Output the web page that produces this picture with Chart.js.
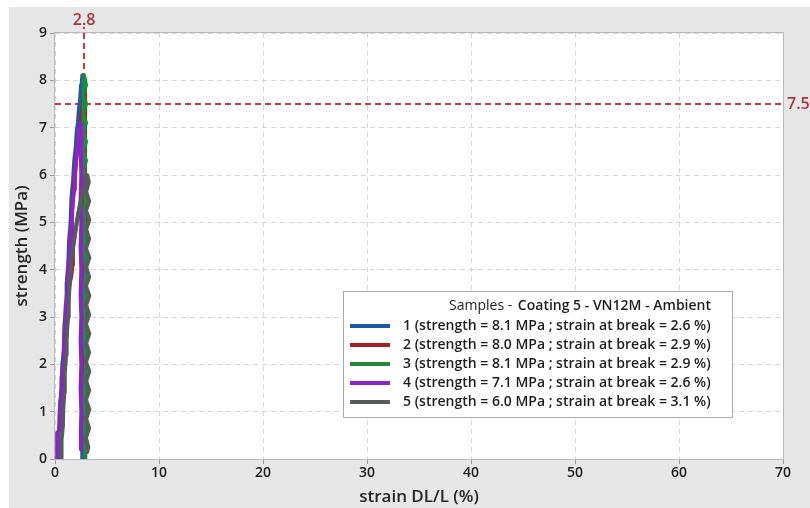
<!DOCTYPE html>
<html>
<head>
<meta charset="utf-8">
<script src="https://cdn.jsdelivr.net/npm/chart.js@4.4.1/dist/chart.umd.min.js"></script>
<style>
  html, body { margin: 0; padding: 0; background: #ffffff; }
  canvas { display: block; }
</style>
</head>
<body>
<canvas id="chart" width="810" height="508"></canvas>
<script>
// Tensile curves, strain (%) vs strength (MPa), one [strain, stress] pair per reading.
const sample1 = [
  [0.30,0],[0.32,0.5],[0.48,0.7],[0.50,1.2],[0.66,1.5],[0.70,2.0],[0.86,2.3],[0.90,2.8],
  [1.06,3.2],[1.12,3.7],[1.28,4.1],[1.35,4.6],[1.50,5.0],[1.58,5.5],[1.74,5.9],[1.85,6.3],
  [2.00,6.6],[2.08,6.9],[2.20,7.1],[2.30,7.4],[2.42,7.6],[2.50,7.9],[2.58,8.0],[2.65,8.1],
  [2.62,7.6],[2.64,6.0],[2.60,4.0],[2.64,2.0],[2.62,0.3],[2.62,0]
];
const sample2 = [
  [0.35,0],[0.40,0.5],[0.55,0.9],[0.62,1.4],[0.78,1.8],[0.85,2.3],[1.00,2.7],[1.10,3.2],
  [1.30,3.6],[1.55,3.85],[1.68,4.1],[1.72,4.4],[1.60,4.8],[1.62,5.2],[1.75,5.6],[1.90,6.0],
  [2.05,6.4],[2.25,6.8],[2.42,7.05],[2.70,7.5],[2.80,7.8],[2.85,8.0],[2.90,7.6],[2.88,6.0],
  [2.92,4.0],[2.88,2.0],[2.90,0]
];
const sample3 = [
  [0.45,0],[0.50,0.4],[0.65,0.8],[0.70,1.3],[0.85,1.7],[0.92,2.2],[1.06,2.6],[1.15,3.0],
  [1.30,3.4],[1.40,3.8],[1.55,4.2],[1.75,4.5],[1.95,4.8],[2.15,5.05],[2.35,5.3],[2.50,5.5],
  [2.62,6.0],[2.68,6.6],[2.72,7.2],[2.74,7.7],[2.80,8.1],
  [2.98,7.9],[2.72,7.7],[2.98,7.5],[2.72,7.3],[2.98,7.1],[2.72,6.9],[2.98,6.7],[2.72,6.5],
  [2.98,6.3],[2.72,6.1],[2.98,5.9],[2.74,5.7],[2.96,5.5],[2.78,5.0],[2.95,4.0],[2.80,3.0],
  [2.95,2.0],[2.80,1.0],[2.92,0.3],[2.90,0]
];
const sample4 = [
  [0.20,0],[0.22,0.3],[0.20,0.55],[0.38,0.6],[0.45,1.0],[0.58,1.3],[0.62,1.7],[0.78,2.0],
  [0.85,2.4],[0.98,2.8],[1.02,3.2],[1.16,3.5],[1.22,3.9],[1.36,4.3],[1.44,4.7],[1.60,5.0],
  [1.70,5.4],[1.84,5.7],[1.92,6.0],[2.04,6.3],[2.14,6.6],[2.24,6.8],[2.32,7.0],[2.40,7.1],
  [2.47,7.05],[2.52,6.9],[2.48,6.5],[2.53,6.0],[2.46,5.5],[2.53,5.0],[2.46,4.5],[2.53,4.0],
  [2.46,3.5],[2.53,3.0],[2.46,2.5],[2.53,2.0],[2.46,1.5],[2.53,1.0],[2.48,0.5],[2.50,0.2]
];
const sample5 = [
  [0.58,0],[0.64,0.15],[0.62,0.4],[0.76,0.7],[0.78,1.0],[0.90,1.4],[0.94,1.8],[1.06,2.2],
  [1.12,2.6],[1.26,3.0],[1.32,3.4],[1.45,3.8],[1.56,4.2],[1.72,4.45],[1.90,4.7],[2.05,4.95],
  [2.20,5.15],[2.38,5.35],[2.55,5.5],[2.70,5.65],[2.85,5.8],[3.00,5.95],[3.10,6.0],
  [3.25,5.85],[3.00,5.65],[3.28,5.45],[2.98,5.25],[3.30,5.05],[3.00,4.85],[3.28,4.65],
  [2.98,4.45],[3.30,4.25],[3.00,4.05],[3.28,3.85],[2.98,3.65],[3.30,3.45],[3.00,3.25],
  [3.28,3.05],[2.98,2.85],[3.30,2.65],[3.00,2.45],[3.28,2.25],[2.98,2.05],[3.30,1.85],
  [3.00,1.65],[3.28,1.45],[2.98,1.25],[3.30,1.05],[3.00,0.85],[3.28,0.65],[2.98,0.45],
  [3.20,0.25],[3.10,0.15]
];

const sampleIds = ['1', '2', '3', '4', '5'];
const strengths = [8.1, 8.0, 8.1, 7.1, 6.0];        // MPa
const breakStrains = [2.6, 2.9, 2.9, 2.6, 3.1];     // %
const sampleColors = ['#1f5aa6', '#a31f22', '#1f8a3c', '#8d22c8', '#575b5b'];
const legendLead = 'Samples - ';
const legendMain = 'Coating 5 - VN12M - Ambient';

const xTicks = [0, 10, 20, 30, 40, 50, 60, 70];
const yTicks = [0, 1, 2, 3, 4, 5, 6, 7, 8, 9];
const markerStrain = [2.8];
const markerStress = [7.5];

const FONT = "'Open Sans', 'Noto Sans', sans-serif";
const curves = [sample1, sample2, sample3, sample4, sample5];

const datasets = curves.map((pts, i) => ({
  label: sampleIds[i],
  data: pts.map(p => ({ x: p[0], y: p[1] })),
  borderColor: sampleColors[i],
  backgroundColor: sampleColors[i],
  order: curves.length - i        // later samples painted on top
}));

// Panel background, white plot area and frame.
const framePlugin = {
  id: 'frame',
  beforeDraw(chart) {
    const { ctx, chartArea: a, width, height } = chart;
    ctx.save();
    ctx.fillStyle = '#ffffff';
    ctx.fillRect(0, 0, width, height);
    ctx.fillStyle = '#e7e7e7';
    ctx.fillRect(9, 7, width - 9, height - 7);
    ctx.fillStyle = '#ffffff';
    ctx.fillRect(a.left, a.top, a.right - a.left, a.bottom - a.top);
    ctx.restore();
  },
  beforeDatasetsDraw(chart) {
    const { ctx, chartArea: a } = chart;
    ctx.save();
    ctx.strokeStyle = '#b9b9b9';
    ctx.lineWidth = 1;
    ctx.strokeRect(a.left - 0.5, a.top - 0.5, a.right - a.left + 1, a.bottom - a.top + 1);
    ctx.restore();
  }
};

// Dashed reference lines at the break strain and the strength threshold.
const markerPlugin = {
  id: 'markers',
  beforeDatasetsDraw(chart) {
    const { ctx, chartArea: a, scales: { x, y } } = chart;
    ctx.save();
    ctx.strokeStyle = '#d6343b';
    ctx.lineWidth = 2;
    ctx.setLineDash([6, 4]);
    markerStrain.forEach(v => {
      const px = Math.round(x.getPixelForValue(v));
      ctx.beginPath();
      ctx.moveTo(px, a.bottom);
      ctx.lineTo(px, a.top - 6);
      ctx.stroke();
    });
    markerStress.forEach(v => {
      const py = Math.round(y.getPixelForValue(v));
      ctx.beginPath();
      ctx.moveTo(a.left, py);
      ctx.lineTo(a.right, py);
      ctx.stroke();
    });
    ctx.restore();
  },
  afterDraw(chart) {
    const { ctx, chartArea: a, scales: { x, y } } = chart;
    ctx.save();
    ctx.fillStyle = '#a8373a';
    ctx.font = `600 16px ${FONT}`;
    markerStrain.forEach(v => {
      ctx.textAlign = 'center';
      ctx.textBaseline = 'middle';
      ctx.fillText(v.toFixed(1), x.getPixelForValue(v), a.top - 13);
    });
    markerStress.forEach(v => {
      ctx.textAlign = 'left';
      ctx.textBaseline = 'middle';
      ctx.fillText(v.toFixed(1), a.right + 4, y.getPixelForValue(v));
    });
    ctx.restore();
  }
};

// Boxed legend inside the plot, lower right.
const legendPlugin = {
  id: 'sampleLegend',
  afterDraw(chart) {
    const { ctx, chartArea: a } = chart;
    const boxW = 390, boxH = 127;
    const bx = a.right - 50 - boxW, by = a.bottom - 41 - boxH;
    ctx.save();
    ctx.fillStyle = '#ffffff';
    ctx.fillRect(bx, by, boxW, boxH);
    ctx.strokeStyle = '#a9a9a9';
    ctx.lineWidth = 1;
    ctx.strokeRect(bx + 0.5, by + 0.5, boxW - 1, boxH - 1);

    const textRight = bx + 368;
    ctx.fillStyle = '#1e1e1e';
    ctx.textBaseline = 'middle';
    ctx.textAlign = 'right';
    ctx.font = `600 14px ${FONT}`;
    ctx.fillText(legendMain, textRight, by + 15);
    const mainW = ctx.measureText(legendMain).width;
    ctx.font = `400 14px ${FONT}`;
    ctx.fillText(legendLead, textRight - mainW - 2, by + 15);

    ctx.font = `600 14px ${FONT}`;
    ctx.textAlign = 'left';
    sampleIds.forEach((id, i) => {
      const cy = by + 35 + i * 19;
      ctx.strokeStyle = sampleColors[i];
      ctx.lineWidth = 4;
      ctx.beginPath();
      ctx.moveTo(bx + 7, cy);
      ctx.lineTo(bx + 47, cy);
      ctx.stroke();
      const txt = `${id} (strength = ${strengths[i].toFixed(1)} MPa ; strain at break = ${breakStrains[i].toFixed(1)} %)`;
      ctx.fillText(txt, bx + 60, cy);
    });
    ctx.restore();
  }
};

const tickFont = { family: FONT, size: 14, weight: '600' };
const titleFont = { family: FONT, size: 17, weight: '600' };
const gridOpts = { color: '#d6d6d6', lineWidth: 1, tickLength: 5, tickColor: '#9a9a9a' };

new Chart(document.getElementById('chart'), {
  type: 'line',
  data: { datasets },
  options: {
    responsive: false,
    animation: false,
    events: [],
    layout: { padding: { left: 0, right: 27, top: 33, bottom: 0 } },
    plugins: { legend: { display: false }, tooltip: { enabled: false } },
    elements: {
      point: { radius: 0 },
      line: { tension: 0, borderWidth: 4, borderJoinStyle: 'round', borderCapStyle: 'round' }
    },
    scales: {
      x: {
        type: 'linear',
        min: xTicks[0],
        max: xTicks[xTicks.length - 1],
        afterBuildTicks(s) { s.ticks = xTicks.map(v => ({ value: v })); },
        afterFit(s) { s.height = 49; },
        ticks: { font: tickFont, color: '#222222', padding: 1, maxRotation: 0 },
        grid: gridOpts,
        border: { display: false, dash: [5, 4] },
        title: { display: true, text: 'strain DL/L (%)', font: titleFont, color: '#262626', padding: { top: 0, bottom: 1 } }
      },
      y: {
        type: 'linear',
        min: yTicks[0],
        max: yTicks[yTicks.length - 1],
        afterBuildTicks(s) { s.ticks = yTicks.map(v => ({ value: v })); },
        afterFit(s) { s.width = 55; },
        ticks: { font: tickFont, color: '#222222', padding: 3 },
        grid: gridOpts,
        border: { display: false, dash: [5, 4] },
        title: { display: true, text: 'strength (MPa)', font: titleFont, color: '#262626', padding: { top: 12, bottom: 0 } }
      }
    }
  },
  plugins: [framePlugin, markerPlugin, legendPlugin]
});
</script>
</body>
</html>
